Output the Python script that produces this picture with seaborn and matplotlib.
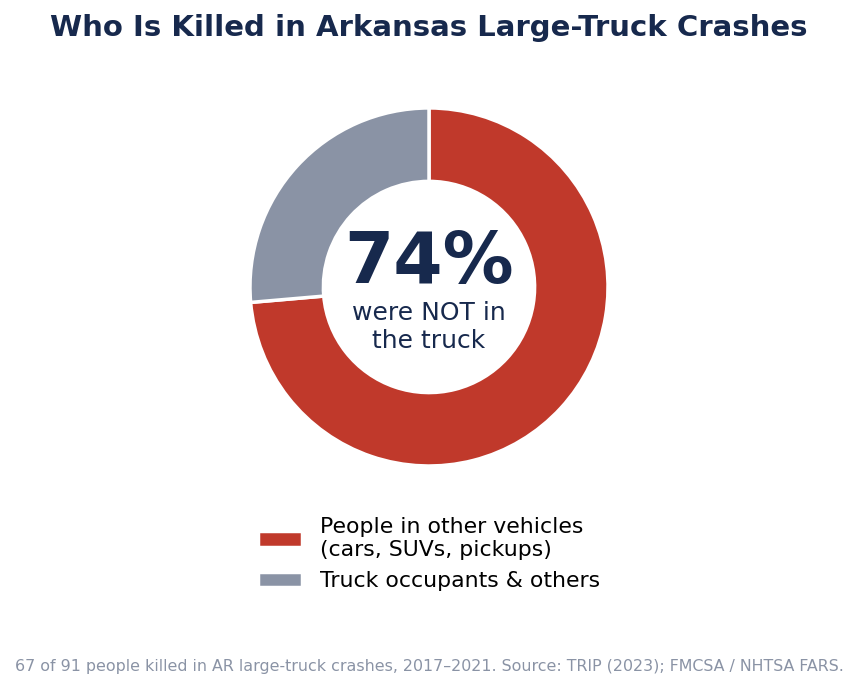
import numpy as np
import pandas as pd
import matplotlib
matplotlib.use("Agg")
import matplotlib.pyplot as plt
import seaborn as sns

# dados: mortes em acidentes com caminhões grandes no Arkansas, 2017-2021
grupos = ["People in other vehicles\n(cars, SUVs, pickups)", "Truck occupants & others"]
mortes = [67, 24]
cores = ["#c0392b", "#8a93a5"]

total = sum(mortes)
pct = round(100 * mortes[0] / total)

sns.set_theme(style="white")
plt.rcParams['font.family'] = ['DejaVu Sans']

fig = plt.figure(figsize=(8.58, 6.9), dpi=100)
ax = fig.add_axes([0.2392, 0.2598, 0.5216, 0.6486])

df = pd.DataFrame({"grupo": grupos, "mortes": mortes})
wedges, _ = ax.pie(df["mortes"], colors=cores, startangle=90, counterclock=False,
                   wedgeprops=dict(width=0.41, edgecolor="white", linewidth=2.5))
ax.set_aspect("equal")

# texto central
ax.text(0, 0.13, f"{pct}%", ha="center", va="center", fontsize=51,
        fontweight="bold", color="#17294d")
ax.text(0, -0.225, "were NOT in\nthe truck", ha="center", va="center", fontsize=18,
        color="#17294d", linespacing=1.2)

fig.suptitle("Who Is Killed in Arkansas Large-Truck Crashes", y=0.959, va="center",
             fontsize=21, fontweight="bold", color="#17294d")

fig.legend(wedges, df["grupo"], loc="center", bbox_to_anchor=(0.5, 1 - 554 / 690),
           frameon=False, fontsize=15.8, labelspacing=0.5, labelcolor="black")

fig.text(0.5, 1 - 667 / 690,
         "67 of 91 people killed in AR large-truck crashes, 2017\u20132021. Source: TRIP (2023); FMCSA / NHTSA FARS.",
         ha="center", va="center", fontsize=11.4, color="#8a93a5")

fig.savefig("out.png", dpi=100)
